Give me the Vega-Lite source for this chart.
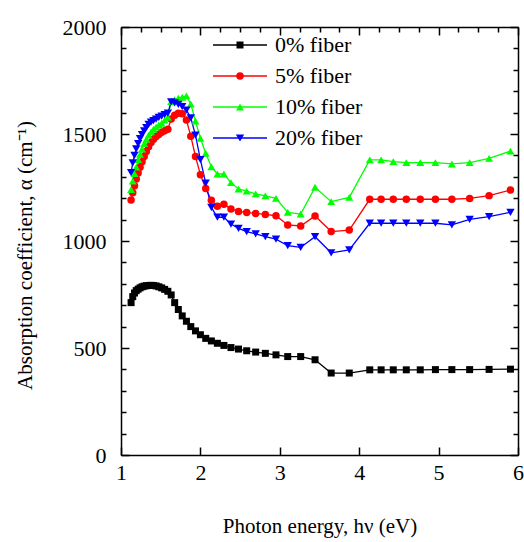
{
  "$schema": "https://vega.github.io/schema/vega-lite/v6.json",
  "width": 397,
  "height": 428,
  "autosize": {"type": "none"},
  "padding": {"left": 121, "top": 27, "right": 6, "bottom": 87},
  "background": "white",
  "config": {"view": {"stroke": null}},
  "datasets": {
    "pts": [
{"e":1.127,"a":712,"s":"0% fiber"},{"e":1.148,"a":740,"s":"0% fiber"},{"e":1.170,"a":757,"s":"0% fiber"},{"e":1.192,"a":768,"s":"0% fiber"},{"e":1.216,"a":775,"s":"0% fiber"},{"e":1.240,"a":781,"s":"0% fiber"},{"e":1.265,"a":786,"s":"0% fiber"},{"e":1.292,"a":789,"s":"0% fiber"},{"e":1.319,"a":791,"s":"0% fiber"},{"e":1.348,"a":792,"s":"0% fiber"},{"e":1.378,"a":793,"s":"0% fiber"},{"e":1.409,"a":792,"s":"0% fiber"},{"e":1.442,"a":790,"s":"0% fiber"},{"e":1.476,"a":786,"s":"0% fiber"},{"e":1.512,"a":781,"s":"0% fiber"},{"e":1.550,"a":774,"s":"0% fiber"},{"e":1.590,"a":765,"s":"0% fiber"},{"e":1.632,"a":748,"s":"0% fiber"},{"e":1.676,"a":712,"s":"0% fiber"},{"e":1.722,"a":680,"s":"0% fiber"},{"e":1.771,"a":650,"s":"0% fiber"},{"e":1.824,"a":625,"s":"0% fiber"},{"e":1.879,"a":600,"s":"0% fiber"},{"e":1.938,"a":580,"s":"0% fiber"},{"e":2.000,"a":562,"s":"0% fiber"},{"e":2.067,"a":545,"s":"0% fiber"},{"e":2.138,"a":533,"s":"0% fiber"},{"e":2.214,"a":522,"s":"0% fiber"},{"e":2.296,"a":512,"s":"0% fiber"},{"e":2.385,"a":502,"s":"0% fiber"},{"e":2.480,"a":495,"s":"0% fiber"},{"e":2.583,"a":487,"s":"0% fiber"},{"e":2.696,"a":481,"s":"0% fiber"},{"e":2.818,"a":475,"s":"0% fiber"},{"e":2.952,"a":468,"s":"0% fiber"},{"e":3.100,"a":460,"s":"0% fiber"},{"e":3.263,"a":460,"s":"0% fiber"},{"e":3.444,"a":445,"s":"0% fiber"},{"e":3.647,"a":383,"s":"0% fiber"},{"e":3.875,"a":383,"s":"0% fiber"},{"e":4.133,"a":398,"s":"0% fiber"},{"e":4.276,"a":398,"s":"0% fiber"},{"e":4.429,"a":398,"s":"0% fiber"},{"e":4.593,"a":398,"s":"0% fiber"},{"e":4.769,"a":398,"s":"0% fiber"},{"e":4.960,"a":399,"s":"0% fiber"},{"e":5.167,"a":399,"s":"0% fiber"},{"e":5.391,"a":399,"s":"0% fiber"},{"e":5.636,"a":400,"s":"0% fiber"},{"e":5.905,"a":401,"s":"0% fiber"},
{"e":1.127,"a":1192,"s":"5% fiber"},{"e":1.148,"a":1225,"s":"5% fiber"},{"e":1.170,"a":1258,"s":"5% fiber"},{"e":1.192,"a":1290,"s":"5% fiber"},{"e":1.216,"a":1318,"s":"5% fiber"},{"e":1.240,"a":1345,"s":"5% fiber"},{"e":1.265,"a":1370,"s":"5% fiber"},{"e":1.292,"a":1395,"s":"5% fiber"},{"e":1.319,"a":1418,"s":"5% fiber"},{"e":1.348,"a":1440,"s":"5% fiber"},{"e":1.378,"a":1460,"s":"5% fiber"},{"e":1.409,"a":1475,"s":"5% fiber"},{"e":1.442,"a":1488,"s":"5% fiber"},{"e":1.476,"a":1498,"s":"5% fiber"},{"e":1.512,"a":1508,"s":"5% fiber"},{"e":1.550,"a":1515,"s":"5% fiber"},{"e":1.590,"a":1522,"s":"5% fiber"},{"e":1.632,"a":1570,"s":"5% fiber"},{"e":1.676,"a":1588,"s":"5% fiber"},{"e":1.722,"a":1597,"s":"5% fiber"},{"e":1.771,"a":1595,"s":"5% fiber"},{"e":1.824,"a":1565,"s":"5% fiber"},{"e":1.879,"a":1490,"s":"5% fiber"},{"e":1.938,"a":1395,"s":"5% fiber"},{"e":2.000,"a":1310,"s":"5% fiber"},{"e":2.067,"a":1245,"s":"5% fiber"},{"e":2.138,"a":1190,"s":"5% fiber"},{"e":2.214,"a":1162,"s":"5% fiber"},{"e":2.296,"a":1172,"s":"5% fiber"},{"e":2.385,"a":1150,"s":"5% fiber"},{"e":2.480,"a":1138,"s":"5% fiber"},{"e":2.583,"a":1133,"s":"5% fiber"},{"e":2.696,"a":1129,"s":"5% fiber"},{"e":2.818,"a":1124,"s":"5% fiber"},{"e":2.952,"a":1118,"s":"5% fiber"},{"e":3.100,"a":1075,"s":"5% fiber"},{"e":3.263,"a":1070,"s":"5% fiber"},{"e":3.444,"a":1117,"s":"5% fiber"},{"e":3.647,"a":1044,"s":"5% fiber"},{"e":3.875,"a":1051,"s":"5% fiber"},{"e":4.133,"a":1195,"s":"5% fiber"},{"e":4.276,"a":1195,"s":"5% fiber"},{"e":4.429,"a":1195,"s":"5% fiber"},{"e":4.593,"a":1195,"s":"5% fiber"},{"e":4.769,"a":1195,"s":"5% fiber"},{"e":4.960,"a":1195,"s":"5% fiber"},{"e":5.167,"a":1195,"s":"5% fiber"},{"e":5.391,"a":1199,"s":"5% fiber"},{"e":5.636,"a":1212,"s":"5% fiber"},{"e":5.905,"a":1238,"s":"5% fiber"},
{"e":1.127,"a":1240,"s":"10% fiber"},{"e":1.148,"a":1280,"s":"10% fiber"},{"e":1.170,"a":1315,"s":"10% fiber"},{"e":1.192,"a":1345,"s":"10% fiber"},{"e":1.216,"a":1380,"s":"10% fiber"},{"e":1.240,"a":1405,"s":"10% fiber"},{"e":1.265,"a":1430,"s":"10% fiber"},{"e":1.292,"a":1455,"s":"10% fiber"},{"e":1.319,"a":1475,"s":"10% fiber"},{"e":1.348,"a":1495,"s":"10% fiber"},{"e":1.378,"a":1510,"s":"10% fiber"},{"e":1.409,"a":1522,"s":"10% fiber"},{"e":1.442,"a":1533,"s":"10% fiber"},{"e":1.476,"a":1542,"s":"10% fiber"},{"e":1.512,"a":1550,"s":"10% fiber"},{"e":1.550,"a":1565,"s":"10% fiber"},{"e":1.590,"a":1578,"s":"10% fiber"},{"e":1.632,"a":1652,"s":"10% fiber"},{"e":1.676,"a":1660,"s":"10% fiber"},{"e":1.722,"a":1667,"s":"10% fiber"},{"e":1.771,"a":1672,"s":"10% fiber"},{"e":1.824,"a":1678,"s":"10% fiber"},{"e":1.879,"a":1640,"s":"10% fiber"},{"e":1.938,"a":1560,"s":"10% fiber"},{"e":2.000,"a":1480,"s":"10% fiber"},{"e":2.067,"a":1410,"s":"10% fiber"},{"e":2.138,"a":1347,"s":"10% fiber"},{"e":2.214,"a":1313,"s":"10% fiber"},{"e":2.296,"a":1313,"s":"10% fiber"},{"e":2.385,"a":1273,"s":"10% fiber"},{"e":2.480,"a":1243,"s":"10% fiber"},{"e":2.583,"a":1233,"s":"10% fiber"},{"e":2.696,"a":1220,"s":"10% fiber"},{"e":2.818,"a":1211,"s":"10% fiber"},{"e":2.952,"a":1199,"s":"10% fiber"},{"e":3.100,"a":1134,"s":"10% fiber"},{"e":3.263,"a":1126,"s":"10% fiber"},{"e":3.444,"a":1251,"s":"10% fiber"},{"e":3.647,"a":1184,"s":"10% fiber"},{"e":3.875,"a":1204,"s":"10% fiber"},{"e":4.133,"a":1379,"s":"10% fiber"},{"e":4.276,"a":1379,"s":"10% fiber"},{"e":4.429,"a":1371,"s":"10% fiber"},{"e":4.593,"a":1366,"s":"10% fiber"},{"e":4.769,"a":1366,"s":"10% fiber"},{"e":4.960,"a":1366,"s":"10% fiber"},{"e":5.167,"a":1360,"s":"10% fiber"},{"e":5.391,"a":1366,"s":"10% fiber"},{"e":5.636,"a":1386,"s":"10% fiber"},{"e":5.905,"a":1420,"s":"10% fiber"},
{"e":1.127,"a":1320,"s":"20% fiber"},{"e":1.148,"a":1365,"s":"20% fiber"},{"e":1.170,"a":1400,"s":"20% fiber"},{"e":1.192,"a":1430,"s":"20% fiber"},{"e":1.216,"a":1455,"s":"20% fiber"},{"e":1.240,"a":1478,"s":"20% fiber"},{"e":1.265,"a":1497,"s":"20% fiber"},{"e":1.292,"a":1515,"s":"20% fiber"},{"e":1.319,"a":1530,"s":"20% fiber"},{"e":1.348,"a":1545,"s":"20% fiber"},{"e":1.378,"a":1555,"s":"20% fiber"},{"e":1.409,"a":1563,"s":"20% fiber"},{"e":1.442,"a":1570,"s":"20% fiber"},{"e":1.476,"a":1578,"s":"20% fiber"},{"e":1.512,"a":1584,"s":"20% fiber"},{"e":1.550,"a":1590,"s":"20% fiber"},{"e":1.590,"a":1598,"s":"20% fiber"},{"e":1.632,"a":1650,"s":"20% fiber"},{"e":1.676,"a":1646,"s":"20% fiber"},{"e":1.722,"a":1638,"s":"20% fiber"},{"e":1.771,"a":1628,"s":"20% fiber"},{"e":1.824,"a":1612,"s":"20% fiber"},{"e":1.879,"a":1575,"s":"20% fiber"},{"e":1.938,"a":1495,"s":"20% fiber"},{"e":2.000,"a":1380,"s":"20% fiber"},{"e":2.067,"a":1270,"s":"20% fiber"},{"e":2.138,"a":1157,"s":"20% fiber"},{"e":2.214,"a":1111,"s":"20% fiber"},{"e":2.296,"a":1111,"s":"20% fiber"},{"e":2.385,"a":1079,"s":"20% fiber"},{"e":2.480,"a":1059,"s":"20% fiber"},{"e":2.583,"a":1044,"s":"20% fiber"},{"e":2.696,"a":1033,"s":"20% fiber"},{"e":2.818,"a":1020,"s":"20% fiber"},{"e":2.952,"a":1009,"s":"20% fiber"},{"e":3.100,"a":978,"s":"20% fiber"},{"e":3.263,"a":970,"s":"20% fiber"},{"e":3.444,"a":1020,"s":"20% fiber"},{"e":3.647,"a":945,"s":"20% fiber"},{"e":3.875,"a":958,"s":"20% fiber"},{"e":4.133,"a":1083,"s":"20% fiber"},{"e":4.276,"a":1083,"s":"20% fiber"},{"e":4.429,"a":1083,"s":"20% fiber"},{"e":4.593,"a":1083,"s":"20% fiber"},{"e":4.769,"a":1083,"s":"20% fiber"},{"e":4.960,"a":1083,"s":"20% fiber"},{"e":5.167,"a":1075,"s":"20% fiber"},{"e":5.391,"a":1101,"s":"20% fiber"},{"e":5.636,"a":1114,"s":"20% fiber"},{"e":5.905,"a":1134,"s":"20% fiber"}
    ]
  },
  "data": {"name": "pts"},
  "resolve": {"axis": {"x": "independent", "y": "independent"}},
  "layer": [
    {
      "mark": {"type": "line", "strokeWidth": 1.3},
      "encoding": {
        "x": {"field": "e", "type": "quantitative",
          "scale": {"domain": [1, 6], "nice": false, "zero": false},
          "axis": {"orient": "bottom", "values": [1,1.25,1.5,1.75,2,2.25,2.5,2.75,3,3.25,3.5,3.75,4,4.25,4.5,4.75,5,5.25,5.5,5.75,6],
            "labelExpr": "datum.value % 1 === 0 ? datum.label : ''", "format": "d",
            "tickSize": {"condition": {"test": "datum.value % 1 === 0", "value": -8}, "value": -5},
            "labelPadding": 15, "grid": false, "labelFlush": false, "labelOverlap": false,
            "domainColor": "black", "domainWidth": 1.5, "tickColor": "black", "tickWidth": 1.5,
            "labelFont": "Times New Roman", "labelFontSize": 22, "labelColor": "black",
            "title": "Photon energy, hν (eV)", "titleFont": "Times New Roman", "titleFontSize": 21,
            "titleFontWeight": "normal", "titleColor": "black", "titleY": 77, "titleBaseline": "alphabetic"}},
        "y": {"field": "a", "type": "quantitative",
          "scale": {"domain": [0, 2000], "nice": false},
          "axis": {"orient": "left", "values": [0,100,200,300,400,500,600,700,800,900,1000,1100,1200,1300,1400,1500,1600,1700,1800,1900,2000],
            "labelExpr": "datum.value % 500 === 0 ? datum.label : ''",
            "format": "d",
            "tickSize": {"condition": {"test": "datum.value % 500 === 0", "value": -8}, "value": -5},
            "labelPadding": 23, "grid": false, "labelFlush": false, "labelOverlap": false,
            "domainColor": "black", "domainWidth": 1.5, "tickColor": "black", "tickWidth": 1.5,
            "labelFont": "Times New Roman", "labelFontSize": 22, "labelColor": "black",
            "title": "Absorption coefficient, α (cm⁻¹)", "titleFont": "Times New Roman", "titleFontSize": 21,
            "titleFontWeight": "normal", "titleColor": "black", "titleX": -96, "titleY": 228,
            "titleAlign": "center", "titleBaseline": "middle", "titleAngle": -90}},
        "stroke": {"field": "s", "type": "nominal",
          "sort": ["0% fiber", "5% fiber", "10% fiber", "20% fiber"],
          "scale": {"range": ["#000000", "#ff0000", "#00ff00", "#0000ff"]},
          "legend": {"orient": "none", "legendX": 108, "legendY": 7, "title": null, "padding": 0,
            "symbolSize": 100, "symbolType": "M-5.4,0H5.4", "symbolStrokeWidth": 1.3, "labelOffset": 24, "rowPadding": 9,
            "labelFont": "Times New Roman", "labelFontSize": 22, "labelColor": "black", "labelOpacity": 0}}
      }
    },
    {
      "mark": {"type": "point", "filled": true, "opacity": 1},
      "encoding": {
        "x": {"field": "e", "type": "quantitative",
          "axis": {"orient": "top", "values": [1,1.25,1.5,1.75,2,2.25,2.5,2.75,3,3.25,3.5,3.75,4,4.25,4.5,4.75,5,5.25,5.5,5.75,6],
            "labels": false, "title": null, "grid": false,
            "tickSize": {"condition": {"test": "datum.value % 1 === 0", "value": -8}, "value": -5},
            "domainColor": "black", "domainWidth": 1.5, "tickColor": "black", "tickWidth": 1.5}},
        "y": {"field": "a", "type": "quantitative",
          "axis": {"orient": "right", "values": [0,100,200,300,400,500,600,700,800,900,1000,1100,1200,1300,1400,1500,1600,1700,1800,1900,2000],
            "labels": false, "title": null, "grid": false,
            "tickSize": {"condition": {"test": "datum.value % 500 === 0", "value": -8}, "value": -5},
            "domainColor": "black", "domainWidth": 1.5, "tickColor": "black", "tickWidth": 1.5}},
        "color": {"field": "s", "type": "nominal",
          "scale": {"domain": ["0% fiber", "5% fiber", "10% fiber", "20% fiber"], "range": ["#000000", "#ff0000", "#00ff00", "#0000ff"]},
          "legend": {"orient": "none", "legendX": 108, "legendY": 7, "title": null, "padding": 0,
            "symbolSize": 100, "labelOffset": 24, "rowPadding": 9,
            "labelFont": "Times New Roman", "labelFontSize": 22, "labelColor": "black"}},
        "size": {"field": "s", "type": "ordinal",
          "scale": {"domain": ["0% fiber", "5% fiber", "10% fiber", "20% fiber"], "range": [49, 70, 85, 85]},
          "legend": null},
        "shape": {"field": "s", "type": "nominal",
          "scale": {"domain": ["0% fiber", "5% fiber", "10% fiber", "20% fiber"], "range": ["square", "circle", "triangle-up", "triangle-down"]},
          "legend": {"orient": "none", "legendX": 108, "legendY": 7, "title": null, "padding": 0,
            "symbolSize": 100, "labelOffset": 24, "rowPadding": 9,
            "labelFont": "Times New Roman", "labelFontSize": 22, "labelColor": "black"}}
      }
    }
  ]
}
